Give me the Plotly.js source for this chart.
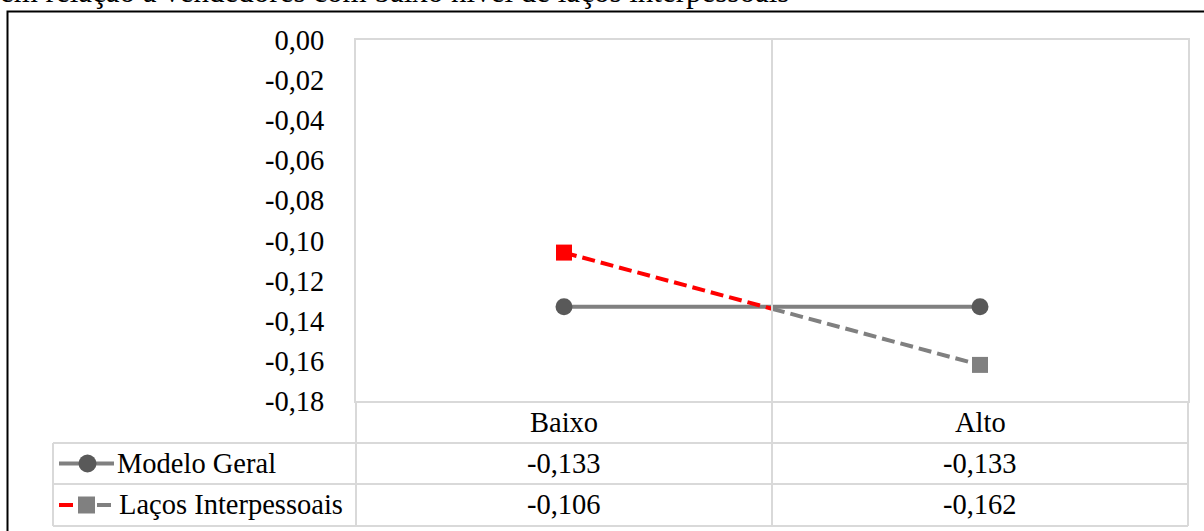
<!DOCTYPE html>
<html>
<head>
<meta charset="utf-8">
<script src="https://cdn.plot.ly/plotly-3.0.1.min.js"></script>
<style>
  html, body { margin: 0; padding: 0; background: #ffffff; }
  #chart { width: 1204px; height: 531px; }
</style>
</head>
<body>
<div id="chart"></div>
<script>
// Chart data
const categories = ['Baixo', 'Alto'];
const seriesNames = ['Modelo Geral', 'Laços Interpessoais'];
const modeloGeral = [-0.133, -0.133];
const lacosInterpessoais = [-0.106, -0.162];
const yTickVals = [0, -0.02, -0.04, -0.06, -0.08, -0.10, -0.12, -0.14, -0.16, -0.18];
const yTickText = ['0,00', '-0,02', '-0,04', '-0,06', '-0,08', '-0,10', '-0,12', '-0,14', '-0,16', '-0,18'];
const headingText = 'em relação a vendedores com baixo nível de laços interpessoais';

// Page geometry (pixels) of the plotting area
const W = 1204, H = 531;
const PL = 356, PR = 1188, PT = 40, PB = 401;
const px = p => (p - PL) / (PR - PL);
const py = p => (PB - p) / (PB - PT);

const FONT = 'Liberation Serif, "Times New Roman", serif';
const GRID = '#d9d9d9';
const GRAY_LINE = '#808080';
const GRAY_MARK = '#595959';
const RED = '#ff0000';

const xIdx = categories.map((_, i) => i);
const fmt = v => v.toFixed(3).replace('.', ',');

// Laços line switches colour halfway between the two categories
const midX = (xIdx[0] + xIdx[1]) / 2;
const midY = (lacosInterpessoais[0] + lacosInterpessoais[1]) / 2;

const traces = [
  {
    x: xIdx, y: modeloGeral, name: seriesNames[0],
    mode: 'lines+markers', type: 'scatter',
    line: { color: GRAY_LINE, width: 4 },
    marker: { symbol: 'circle', size: 17, color: GRAY_MARK },
    cliponaxis: false, hoverinfo: 'skip'
  },
  {
    x: [xIdx[0], midX], y: [lacosInterpessoais[0], midY], name: seriesNames[1],
    mode: 'lines', type: 'scatter',
    line: { color: RED, width: 4, dash: '13px,6px' },
    cliponaxis: false, hoverinfo: 'skip'
  },
  {
    x: [midX, xIdx[1]], y: [midY, lacosInterpessoais[1]], name: seriesNames[1],
    mode: 'lines', type: 'scatter',
    line: { color: GRAY_LINE, width: 4, dash: '13px,6px' },
    cliponaxis: false, hoverinfo: 'skip'
  },
  {
    x: xIdx, y: lacosInterpessoais, name: seriesNames[1],
    mode: 'markers', type: 'scatter',
    marker: { symbol: 'square', size: 16, color: [RED, GRAY_LINE] },
    cliponaxis: false, hoverinfo: 'skip'
  }
];

// Data table grid below the plot
const shapes = [];
const hLine = (x0, x1, y, color, width) => shapes.push({
  type: 'line', xref: 'paper', yref: 'paper',
  x0: px(x0), x1: px(x1), y0: py(y), y1: py(y),
  line: { color: color, width: width }
});
const vLine = (x, y0, y1, color, width) => shapes.push({
  type: 'line', xref: 'paper', yref: 'paper',
  x0: px(x), x1: px(x), y0: py(y0), y1: py(y1),
  line: { color: color, width: width }
});

const ROW0 = 401, ROW1 = 443, ROW2 = 484, ROW3 = 526;
const TL = 53, MID = 772;
hLine(TL, PR, ROW1, GRID, 2);
hLine(TL, PR, ROW2, GRID, 2);
hLine(TL, PR, ROW3, GRID, 2);
vLine(TL, ROW1, ROW3, GRID, 2);
vLine(PL, ROW0, ROW3, GRID, 2);
vLine(MID, PT, ROW3, GRID, 2);
vLine(PR, ROW0, ROW3, GRID, 2);

// Outer frame
shapes.push({
  type: 'rect', xref: 'paper', yref: 'paper',
  x0: px(7.5), x1: px(1230), y0: py(11.5), y1: py(560),
  line: { color: '#000000', width: 2 }, fillcolor: 'rgba(0,0,0,0)'
});

// Legend keys inside the table
const r1 = (ROW1 + ROW2) / 2, r2 = (ROW2 + ROW3) / 2;
hLine(59, 114, r1, GRAY_LINE, 4);
shapes.push({
  type: 'circle', xref: 'paper', yref: 'paper',
  x0: px(78.5), x1: px(96.5), y0: py(r1 - 9), y1: py(r1 + 9),
  fillcolor: GRAY_MARK, line: { width: 0 }
});
hLine(59, 73, r2, RED, 4);
shapes.push({
  type: 'rect', xref: 'paper', yref: 'paper',
  x0: px(78), x1: px(95), y0: py(r2 - 8.5), y1: py(r2 + 8.5),
  fillcolor: GRAY_LINE, line: { width: 0 }
});
hLine(97, 111, r2, GRAY_LINE, 4);

// Table text
const annotations = [];
const txt = (text, x, y, xanchor, size) => annotations.push({
  text: text, xref: 'paper', yref: 'paper', x: px(x), y: py(y),
  xanchor: xanchor, yanchor: 'middle', showarrow: false,
  font: { family: FONT, size: size || 28.5, color: '#000000' }
});
const colCenters = [(PL + MID) / 2, (MID + PR) / 2];
categories.forEach((c, i) => txt(c, colCenters[i], (ROW0 + ROW1) / 2, 'center'));
modeloGeral.forEach((v, i) => txt(fmt(v), colCenters[i], r1, 'center'));
lacosInterpessoais.forEach((v, i) => txt(fmt(v), colCenters[i], r2, 'center'));
txt(seriesNames[0], 115, r1, 'left');
txt(seriesNames[1], 117, r2, 'left');

// Caption running above the frame
txt(headingText, -2, -8, 'left', 31);

const layout = {
  width: W, height: H,
  margin: { l: PL, r: W - PR, t: PT, b: H - PB, pad: 0 },
  paper_bgcolor: '#ffffff', plot_bgcolor: '#ffffff',
  showlegend: false,
  font: { family: FONT, size: 28.5, color: '#000000' },
  xaxis: {
    range: [-0.5, 1.5], showgrid: false, zeroline: false,
    showticklabels: false, ticks: '',
    showline: true, mirror: true, linecolor: GRID, linewidth: 2,
    fixedrange: true
  },
  yaxis: {
    range: [-0.18, 0], tickvals: yTickVals, ticktext: yTickText,
    showgrid: false, zeroline: false, ticks: '',
    ticklabelstandoff: 24,
    tickfont: { family: FONT, size: 28.5, color: '#000000' },
    showline: true, mirror: true, linecolor: GRID, linewidth: 2,
    fixedrange: true
  },
  shapes: shapes,
  annotations: annotations
};

Plotly.newPlot('chart', traces, layout, { displayModeBar: false, staticPlot: true });
</script>
</body>
</html>
